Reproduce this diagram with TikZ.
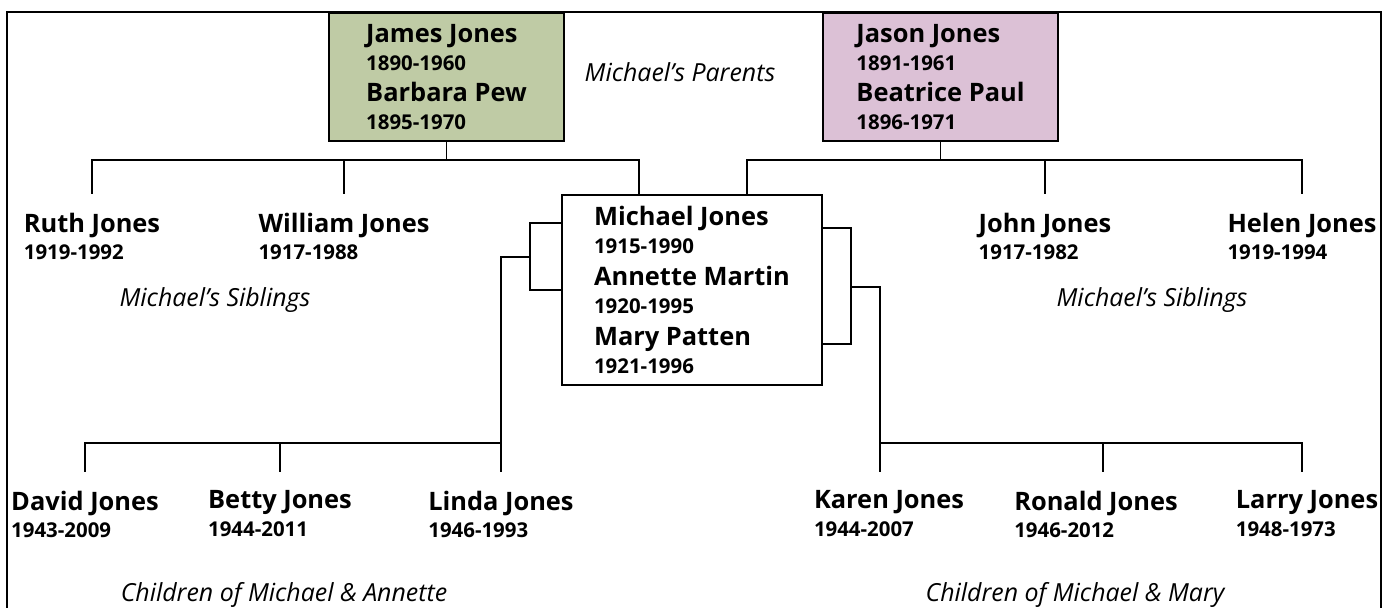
\documentclass[tikz,border=0pt]{standalone}
\usepackage{fontspec}
\setmainfont{Open Sans}

\definecolor{greenbox}{RGB}{191,203,165}
\definecolor{pinkbox}{RGB}{220,193,214}
\newcommand{\namefont}{\fontsize{25.5}{28}\selectfont\bfseries}
\newcommand{\datefont}{\fontsize{20.5}{28}\selectfont\bfseries}
\newcommand{\lifeline}[2]{{\namefont #1}\\{\datefont #2}}

\begin{document}
\begin{tikzpicture}[line join=miter,
  couple/.style={draw,line width=2bp,align=left,inner sep=0pt,font=\datefont},
  person/.style={anchor=north,align=left,inner xsep=0pt,inner ysep=18bp,font=\datefont},
  caption/.style={font=\fontsize{25}{28}\selectfont\itshape}]

\pgfsetlinewidth{1.5bp}
\pgfsetcolor{black}
\useasboundingbox (0bp,0bp) rectangle (1384bp,608bp);

% Frame
\draw [line width=2bp] (7bp,0bp) -- (7bp,596bp) -- (1381bp,596bp) -- (1381bp,0bp);

% Node: James & Barbara
\node [couple,fill=greenbox,minimum width=235bp,minimum height=128bp] (jamesbarbara) at (446.5bp,531bp)
  {\lifeline{James Jones}{1890-1960}\\[4bp]\lifeline{Barbara Pew}{1895-1970}};

% Node: Jason & Beatrice
\node [couple,fill=pinkbox,minimum width=235bp,minimum height=128bp] (jasonbeatrice) at (940.5bp,531bp)
  {\lifeline{Jason Jones}{1891-1961}\\[4bp]\lifeline{Beatrice Paul}{1896-1971}};

% Node: Michael, Annette & Mary
\node [couple,minimum width=260bp,minimum height=190bp] (michael) at (692bp,318bp)
  {\lifeline{Michael Jones}{1915-1990}\\[4bp]\lifeline{Annette Martin}{1920-1995}\\[4bp]\lifeline{Mary Patten}{1921-1996}};

% Nodes: siblings
\node [person] (ruth) at (92bp,414bp) {\lifeline{Ruth Jones}{1919-1992}};
\node [person] (william) at (344bp,414bp) {\lifeline{William Jones}{1917-1988}};
\node [person] (john) at (1045bp,414bp) {\lifeline{John Jones}{1917-1982}};
\node [person] (helen) at (1302bp,414bp) {\lifeline{Helen Jones}{1919-1994}};

% Nodes: children
\node [person] (david) at (85bp,136bp) {\lifeline{David Jones}{1943-2009}};
\node [person] (betty) at (280bp,136bp) {\lifeline{Betty Jones}{1944-2011}};
\node [person] (linda) at (501bp,136bp) {\lifeline{Linda Jones}{1946-1993}};
\node [person] (karen) at (889bp,136bp) {\lifeline{Karen Jones}{1944-2007}};
\node [person] (ronald) at (1096bp,136bp) {\lifeline{Ronald Jones}{1946-2012}};
\node [person] (larry) at (1307bp,136bp) {\lifeline{Larry Jones}{1948-1973}};

% Captions
\node [caption] (parentscap) at (680bp,536bp) {Michael’s Parents};
\node [caption] (sibcapA) at (215bp,308bp) {Michael’s Siblings};
\node [caption] (sibcapB) at (1152bp,308bp) {Michael’s Siblings};
\node [caption] (kidscapA) at (284bp,13bp) {Children of Michael \& Annette};
\node [caption] (kidscapB) at (1075bp,13bp) {Children of Michael \& Mary};

% Junctions
\coordinate (barA) at (446.5bp,448bp);
\coordinate (barB) at (940.5bp,448bp);
\coordinate (annette) at (530bp,351bp);
\coordinate (mary) at (851bp,321bp);
\coordinate (barC) at (501bp,165bp);
\coordinate (barD) at (880bp,165bp);

% Edge: James & Barbara -> Ruth, William, Michael
\draw (jamesbarbara.south) -- (barA);
\draw (ruth.north) |- (barA);
\draw (william.north) -- (william.north |- barA);
\draw (barA) -| ([xshift=-53bp]michael.north);

% Edge: Jason & Beatrice -> Michael, John, Helen
\draw (jasonbeatrice.south) -- (barB);
\draw ([xshift=55bp]michael.north) |- (barB);
\draw (barB) -| (helen.north);
\draw (john.north) -- (john.north |- barB);

% Edge: Michael & Annette -> David, Betty, Linda
\draw ([yshift=67bp]michael.west) -| (annette) |- (michael.west);
\draw (annette) -| (linda.north);
\draw (david.north) |- (barC);
\draw (betty.north) -- (betty.north |- barC);

% Edge: Michael & Mary -> Karen, Ronald, Larry
\draw ([yshift=62bp]michael.east) -| (mary) |- ([yshift=-54bp]michael.east);
\draw (mary) -| ([xshift=-9bp]karen.north);
\draw (barD) -| ([xshift=-5bp]larry.north);
\draw ([xshift=7bp]ronald.north) -- ([xshift=7bp]ronald.north |- barD);

\end{tikzpicture}
\end{document}
